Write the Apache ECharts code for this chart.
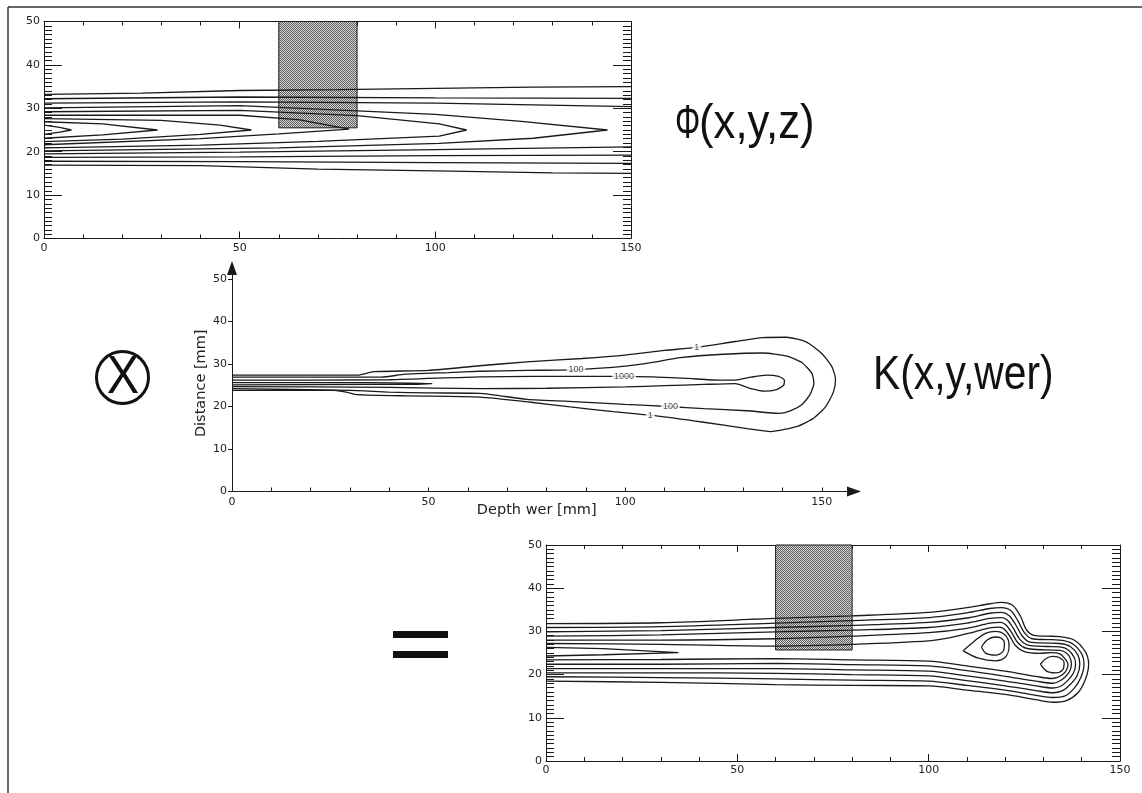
<!DOCTYPE html>
<html>
<head>
<meta charset="utf-8">
<script src="https://cdn.jsdelivr.net/npm/echarts@6.0.0/dist/echarts.min.js"></script>
<style>
  html, body { margin: 0; padding: 0; background: #fff; }
  #chart { width: 1142px; height: 793px; }
</style>
</head>
<body>
<div id="chart"></div>
<script>
// ---- axis values (mm) ----
const DEPTH_MAX = 150;
const DIST_MAX = 50;
const X_LABELS = [0, 50, 100, 150];
const Y_LABELS = [0, 10, 20, 30, 40, 50];
const X_TICKS = [0, 10, 20, 30, 40, 50, 60, 70, 80, 90, 100, 110, 120, 130, 140, 150];

// shaded window [x0, y0, x1, y1]
const PHI_WINDOW = [60, 25.5, 80, 50];
const RESULT_WINDOW = [60, 25.7, 80, 50];

// ---- Phi(x,y,z): isolines, [depth, distance] ----
const phiWedge1 = [[0,26.1],[4,25.6],[7,25.0],[4,24.5],[0,24.0]];
const phiWedge2 = [[0,26.9],[15,26.4],[29,25.0],[15,23.9],[0,23.1]];
const phiWedge3 = [[0,27.6],[30,27.2],[45,26.1],[53,25.0],[40,24.0],[20,22.9],[0,22.3]];
const phiWedge4 = [[0,28.4],[50,28.4],[65,27.4],[78,25.2],[60,24.1],[40,23.0],[0,21.6]];
const phiWedge5 = [[0,29.2],[50,29.5],[80,28.3],[101,26.4],[108,25.0],[101,23.6],[70,22.4],[40,21.5],[0,20.9]];
const phiWedge6 = [[0,30.1],[50,30.6],[100,28.6],[122,27.0],[144,25.0],[125,23.1],[101,21.9],[60,20.9],[0,20.2]];
const phiUpper1 = [[0,31.2],[50,31.5],[100,31.2],[125,30.8],[150,30.4]];
const phiUpper2 = [[0,32.2],[50,32.6],[100,32.4],[150,32.3]];
const phiUpper3 = [[0,33.2],[25,33.5],[50,34.1],[75,34.3],[100,34.6],[125,34.9],[150,35.0]];
const phiLower1 = [[0,19.5],[50,19.9],[100,20.5],[150,21.1]];
const phiLower2 = [[0,18.7],[50,18.8],[100,19.1],[150,19.2]];
const phiLower3 = [[0,17.8],[50,17.7],[100,17.5],[150,17.3]];
const phiLower4 = [[0,16.9],[40,16.8],[70,16.0],[100,15.6],[130,15.1],[150,15.0]];

// ---- K(x,y,wer): kernel isolines ----
const kernelLevel1 = [[0,27.4],[32,27.4],[36,28.2],[50,28.5],[63,29.6],[75,30.5],[89,31.3],[100,32.1],[110,33.2],[118,33.9],[128,35.3],[135,36.2],[141,36.3],[146,35.2],[150,32.5],[152.5,29.5],[153.5,26.5],[153,23.5],[151,20.0],[148,17.3],[144,15.4],[137,14.1],[131,14.8],[120,16.3],[108,17.8],[97,18.8],[86,19.9],[76,21.0],[63,22.2],[45,22.5],[32,22.8],[29,23.4],[26,23.8],[0,23.8]];
const kernelLevel100 = [[0,26.9],[38,26.9],[44,27.6],[55,28.0],[63,28.3],[75,28.5],[88,28.7],[100,29.5],[107,30.4],[114,31.5],[125,32.3],[135,32.6],[141,31.9],[145,30.3],[147.5,27.8],[148,25.5],[147,22.8],[145,20.5],[142,19.0],[139,18.4],[131,19.0],[120,19.5],[111,20.0],[100,20.5],[88,21.1],[75,21.7],[63,23.1],[50,23.2],[40,23.4],[30,23.8],[0,24.2]];
const kernelLevel1000 = [[0,26.2],[40,26.3],[63,27.0],[90,27.1],[107,27.0],[116,26.6],[124,26.2],[128,26.2],[132,26.9],[136,27.4],[139,27.1],[140.5,26.2],[140.3,25.0],[138.5,24.0],[135.5,23.6],[132,24.2],[128,25.4],[120,25.2],[110,24.9],[100,24.6],[80,24.3],[63,24.2],[40,24.5],[0,24.7]];
const kernelCore = [[0,25.6],[35,25.6],[45,25.5],[51,25.4],[45,25.2],[35,25.2],[0,25.1]];
// contour labels [depth, distance, level]
const kernelLabels = [[118.2,33.9,'1'],[106.4,17.9,'1'],[87.5,28.7,'100'],[111.5,20.0,'100'],[99.7,27.1,'1000']];

// ---- result of the convolution: isolines ----
const resultLevel1 = [[0,31.8],[30,32.0],[60,33.0],[80,33.6],[100,34.4],[110,35.5],[116,36.4],[119,36.7],[122,36.0],[124,33.5],[125.6,30.3],[127.5,29.1],[131,28.9],[134.3,28.8],[138,28.0],[141,25.2],[141.8,22.4],[141,19.0],[139,15.8],[136,14.0],[132.5,13.6],[128,14.2],[120,15.4],[110,16.4],[100,17.4],[80,17.5],[60,17.7],[30,18.2],[0,18.5]];
const resultLevel2 = [[0,30.9],[30,31.1],[60,31.9],[80,32.5],[100,33.2],[110,34.3],[116,35.3],[119,35.5],[121.5,34.8],[123.3,32.5],[125,29.7],[127,28.3],[131,28.1],[134.3,28.0],[137.5,27.2],[140,24.8],[140.6,22.4],[139.8,19.4],[138,16.8],[135.5,15.0],[132.5,14.7],[128,15.2],[120,16.4],[110,17.5],[100,18.5],[80,18.7],[60,19.0],[30,19.3],[0,19.5]];
const resultLevel3 = [[0,29.9],[30,30.2],[60,30.9],[80,31.4],[100,32.1],[110,33.1],[116,34.2],[119,34.4],[121,33.7],[122.7,31.6],[124.4,29.0],[126.5,27.5],[131,27.3],[134.3,27.2],[137,26.5],[139,24.5],[139.5,22.4],[138.8,19.8],[137,17.7],[135,16.3],[132.5,15.8],[128,16.3],[120,17.4],[110,18.6],[100,19.7],[80,20.0],[60,20.3],[30,20.4],[0,20.4]];
const resultLevel4 = [[0,28.9],[30,29.2],[60,29.9],[80,30.3],[100,30.9],[110,31.9],[116,33.0],[119,33.2],[120.6,32.6],[122.2,30.6],[123.8,28.2],[126,26.8],[131,26.5],[134.3,26.4],[136.5,25.7],[138,24.0],[138.4,22.4],[137.8,20.3],[136.3,18.6],[134.5,17.3],[132.5,16.9],[128,17.4],[120,18.5],[110,19.7],[100,20.8],[80,21.1],[60,21.4],[30,21.4],[0,21.4]];
const resultLevel5 = [[0,28.0],[30,28.0],[60,28.3],[80,28.9],[100,29.7],[110,30.7],[116,31.9],[118.8,32.1],[120.2,31.5],[121.7,29.7],[123.2,27.5],[125.5,26.1],[131,25.7],[134.3,25.6],[136,25.0],[137,23.8],[137.3,22.4],[136.8,20.7],[135.6,19.4],[134,18.4],[132.5,18.0],[128,18.5],[120,19.6],[110,20.9],[100,22.0],[80,22.3],[60,22.6],[30,22.4],[0,22.4]];
const resultLevel6 = [[0,27.2],[30,27.0],[60,26.6],[80,27.0],[100,27.8],[106,28.6],[112,29.9],[116,30.8],[118.5,31.0],[119.8,30.5],[121.2,28.9],[122.6,26.8],[125,25.3],[129,24.9],[132,25.1],[134.3,24.8],[135.6,23.7],[136.4,22.4],[136,21.0],[135,20.0],[133.5,19.3],[132,19.1],[128,19.6],[120,20.8],[110,22.0],[100,23.1],[80,23.4],[60,23.7],[30,23.5],[0,23.4]];
const resultPeakAOuter = [[109,25.5],[112,27.8],[115,29.6],[117.5,30.0],[119.5,29.5],[120.8,28.0],[121,26.4],[120,24.0],[117.5,23.2],[113,23.8],[109,25.5]];
const resultPeakAInner = [[113.8,26.4],[115.3,28.0],[117.3,28.7],[119,28.4],[119.8,27.2],[119.4,25.3],[117.5,24.5],[115,24.9],[113.8,26.4]];
const resultPeakB = [[129.2,22.4],[130.5,23.6],[132.3,24.2],[134.2,23.9],[135.4,22.7],[135,21.1],[133.2,20.4],[130.8,20.8],[129.2,22.4]];
const resultCore = [[0,26.3],[15,26.0],[34.6,25.1],[15,24.6],[0,24.3]];

// ---- styling ----
const INK = '#1a1a1a';
const FONT = '"DejaVu Sans", "Liberation Sans", sans-serif';

// fine checker fill for the shaded window
const hatch = document.createElement('canvas');
hatch.width = 2; hatch.height = 2;
const hctx = hatch.getContext('2d');
hctx.fillStyle = '#d2d2d2'; hctx.fillRect(0, 0, 2, 2);
hctx.fillStyle = '#606060'; hctx.fillRect(0, 0, 1, 1); hctx.fillRect(1, 1, 1, 1);

const tickStyle = { color: INK, width: 1 };
const labelStyle = { fontSize: 11, color: '#222', fontFamily: FONT };

// framed plot: ticks on all four sides, labels left and bottom
function boxXAxis(grid, pos, labels) {
  return {
    gridIndex: grid, type: 'value', position: pos, min: 0, max: DEPTH_MAX, interval: 50,
    axisLine: { show: true, onZero: false, lineStyle: tickStyle },
    axisTick: { show: true, inside: true, length: 7, lineStyle: tickStyle },
    minorTick: { show: true, splitNumber: 5, length: 4, lineStyle: tickStyle },
    axisLabel: { show: labels, margin: 4, ...labelStyle },
    splitLine: { show: false }, minorSplitLine: { show: false }
  };
}
function boxYAxis(grid, pos, labels) {
  return {
    gridIndex: grid, type: 'value', position: pos, min: 0, max: DIST_MAX, interval: 10,
    axisLine: { show: true, onZero: false, lineStyle: tickStyle },
    axisTick: { show: true, inside: true, length: 18, lineStyle: tickStyle },
    minorTick: { show: true, splitNumber: 10, length: 8, lineStyle: tickStyle },
    axisLabel: { show: labels, margin: 4, ...labelStyle },
    splitLine: { show: false }, minorSplitLine: { show: false }
  };
}

const series = [];
function addWindow(win, xi, yi) {
  series.push({
    type: 'custom', coordinateSystem: 'cartesian2d', xAxisIndex: xi, yAxisIndex: yi,
    data: [win], encode: { x: [0, 2], y: [1, 3] }, silent: true, z: 1,
    renderItem: function (params, api) {
      const p0 = api.coord([api.value(0), api.value(3)]);
      const p1 = api.coord([api.value(2), api.value(1)]);
      return {
        type: 'rect',
        shape: { x: p0[0], y: p0[1], width: p1[0] - p0[0], height: p1[1] - p0[1] },
        style: { fill: { image: hatch, repeat: 'repeat' }, stroke: INK, lineWidth: 1 }
      };
    }
  });
}
function addLines(lines, xi, yi, smooth) {
  lines.forEach(function (d) {
    series.push({
      type: 'line', xAxisIndex: xi, yAxisIndex: yi, data: d, symbol: 'none',
      smooth: smooth, lineStyle: { color: INK, width: 1.3 }, silent: true, z: 3
    });
  });
}

// top: Phi
addWindow(PHI_WINDOW, 0, 0);
addLines([phiWedge1, phiWedge2, phiWedge3, phiWedge4, phiWedge5, phiWedge6,
          phiUpper1, phiUpper2, phiUpper3, phiLower1, phiLower2, phiLower3, phiLower4], 0, 0, false);

// middle: kernel
addLines([kernelLevel1, kernelLevel100, kernelLevel1000, kernelCore], 2, 2, 0.2);
series.push({
  type: 'scatter', xAxisIndex: 2, yAxisIndex: 2, data: kernelLabels, symbolSize: 1,
  itemStyle: { color: 'rgba(0,0,0,0)' }, silent: true, z: 5,
  label: {
    show: true, position: 'inside', formatter: function (p) { return p.data[2]; },
    fontSize: 9, color: '#222', fontFamily: '"Liberation Sans", sans-serif',
    backgroundColor: '#fff', padding: [0, 2]
  }
});

// bottom: result
addWindow(RESULT_WINDOW, 3, 3);
addLines([resultLevel1, resultLevel2, resultLevel3, resultLevel4, resultLevel5, resultLevel6,
          resultPeakAOuter, resultPeakAInner, resultPeakB], 3, 3, 0.3);
addLines([resultCore], 3, 3, false);

const option = {
  animation: false,
  backgroundColor: '#fff',
  grid: [
    { left: 44, top: 21.5, width: 587, height: 217 },
    { left: 232, top: 268, width: 622, height: 223.5 },
    { left: 546, top: 545, width: 574, height: 216 }
  ],
  xAxis: [
    boxXAxis(0, 'bottom', true),
    boxXAxis(0, 'top', false),
    {
      gridIndex: 1, type: 'value', min: 0, max: 158.2,
      axisLine: { show: true, onZero: false, symbol: ['none', 'triangle'], symbolSize: [10, 14], lineStyle: tickStyle },
      axisTick: { show: true, inside: true, length: 4, customValues: X_TICKS, lineStyle: tickStyle },
      axisLabel: { show: true, margin: 5, customValues: X_LABELS, ...labelStyle },
      splitLine: { show: false }
    },
    boxXAxis(2, 'bottom', true),
    boxXAxis(2, 'top', false)
  ],
  yAxis: [
    boxYAxis(0, 'left', true),
    boxYAxis(0, 'right', false),
    {
      gridIndex: 1, type: 'value', min: 0, max: 52.6,
      axisLine: { show: true, onZero: false, symbol: ['none', 'triangle'], symbolSize: [10, 14], lineStyle: tickStyle },
      axisTick: { show: true, inside: false, length: 4, customValues: Y_LABELS, lineStyle: tickStyle },
      axisLabel: { show: true, margin: 5, customValues: Y_LABELS, ...labelStyle },
      splitLine: { show: false }
    },
    boxYAxis(2, 'left', true),
    boxYAxis(2, 'right', false)
  ],
  series: series,
  graphic: [
    // page frame
    { type: 'line', shape: { x1: 8, y1: 7, x2: 1142, y2: 7 }, style: { stroke: '#333', lineWidth: 1.5 } },
    { type: 'line', shape: { x1: 8, y1: 7, x2: 8, y2: 793 }, style: { stroke: '#333', lineWidth: 1.5 } },
    // formula terms
    { type: 'text', x: 675, y: 125, scaleX: 0.66, style: { text: 'Φ', font: '48px "Liberation Sans"', fill: '#111', textAlign: 'left', textVerticalAlign: 'middle' } },
    { type: 'text', x: 699, y: 125, scaleX: 0.91, style: { text: '(x,y,z)', font: '48px "Liberation Sans"', fill: '#111', textAlign: 'left', textVerticalAlign: 'middle' } },
    { type: 'text', x: 873, y: 376, scaleX: 0.85, style: { text: 'K(x,y,wer)', font: '48px "Liberation Sans"', fill: '#111', textAlign: 'left', textVerticalAlign: 'middle' } },
    { type: 'circle', shape: { cx: 122.5, cy: 377.5, r: 26 }, style: { fill: 'none', stroke: '#111', lineWidth: 3 } },
    { type: 'text', x: 123, y: 378, scaleX: 0.9, style: { text: 'X', font: '54px "Liberation Sans"', fill: '#111', textAlign: 'center', textVerticalAlign: 'middle' } },
    { type: 'rect', shape: { x: 393, y: 631, width: 55, height: 7 }, style: { fill: '#111' } },
    { type: 'rect', shape: { x: 393, y: 651, width: 55, height: 7 }, style: { fill: '#111' } },
    // kernel axis names
    { type: 'text', x: 201.7, y: 383.3, rotation: Math.PI / 2, style: { text: 'Distance [mm]', font: '14.5px ' + FONT, fill: '#222', textAlign: 'center', textVerticalAlign: 'middle' } },
    { type: 'text', x: 536.7, y: 510, style: { text: 'Depth wer [mm]', font: '14.5px ' + FONT, fill: '#222', textAlign: 'center', textVerticalAlign: 'middle' } }
  ]
};

const chart = echarts.init(document.getElementById('chart'), null, { renderer: 'canvas' });
chart.setOption(option);
</script>
</body>
</html>
